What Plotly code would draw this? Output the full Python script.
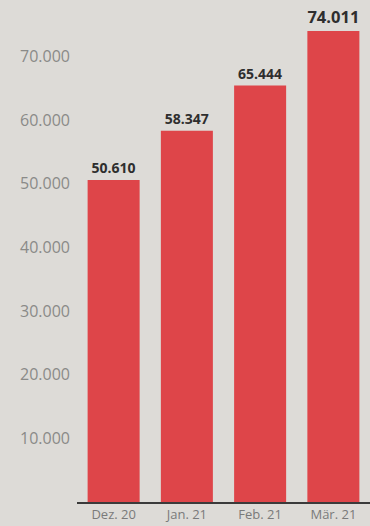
import plotly.graph_objects as go

months = ["Dez. 20", "Jan. 21", "Feb. 21", "Mär. 21"]
values = [50610, 58347, 65444, 74011]
label_sizes = [14, 14, 14, 19]
y_ticks = [10000, 20000, 30000, 40000, 50000, 60000, 70000]

fig = go.Figure(go.Bar(
    x=months, y=values,
    marker=dict(color="#de4549", line=dict(width=0)),
    text=values, texttemplate="%{y:,d}", textposition="outside",
    textfont=dict(size=label_sizes, color="#2e2e2e", family="Open Sans", weight="bold"),
    cliponaxis=False,
))

fig.update_layout(
    width=370, height=526,
    margin=dict(l=77, r=0, t=0, b=24),
    paper_bgcolor="#dddbd7", plot_bgcolor="#dddbd7",
    separators=",.",
    bargap=0.29,
    showlegend=False,
    font=dict(family="Open Sans", color="#7a7a7a"),
)
fig.update_xaxes(
    showgrid=False, showline=True, linecolor="#3a3a3a", linewidth=1.5,
    ticks="", tickfont=dict(size=13, color="#7a7a7a"),
)
fig.update_yaxes(
    range=[0, 78900], showgrid=False, zeroline=False, showline=False,
    tickvals=y_ticks, tickformat=",d", ticks="",
    tickfont=dict(size=16, color="#8a8a88"), ticklabelstandoff=6,
)

fig.write_html("out.html")
